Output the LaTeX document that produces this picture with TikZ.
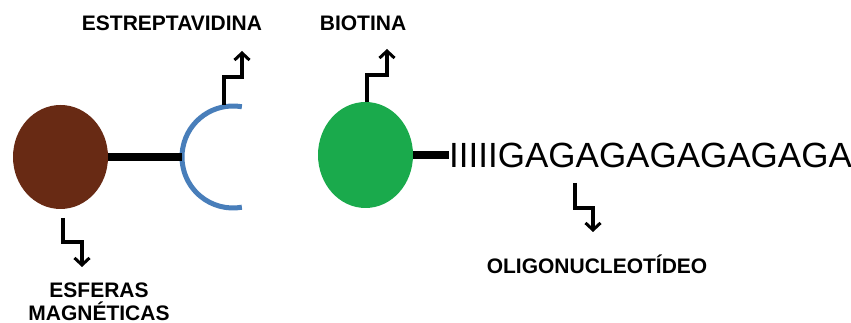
\documentclass[tikz,border=0pt]{standalone}
\usepackage{fontspec}
\setmainfont{Liberation Sans}
\usetikzlibrary{arrows.meta,shapes.geometric}
\definecolor{beadbrown}{RGB}{104,42,20}
\definecolor{biogreen}{RGB}{26,170,76}
\definecolor{strepblue}{RGB}{72,126,186}
\tikzset{
  lbl/.style={font=\fontsize{21}{23}\selectfont\bfseries, inner sep=0pt, align=center},
  pointer/.style={line width=3.2pt, -{Straight Barb[length=7pt,width=15pt,line width=3pt]}},
  linker/.style={line width=8pt},
  blob/.style={ellipse, inner sep=0pt, draw=none}
}
\begin{document}
\begin{tikzpicture}[x=1pt,y=1pt]
\useasboundingbox (0,0) rectangle (851,323);
% beads and biotin
\node[blob, fill=beadbrown, minimum width=95pt, minimum height=104pt] (bead) at (60.5,166) {};
\node[blob, fill=biogreen, minimum width=95pt, minimum height=106pt] (bio) at (365.5,168) {};
% streptavidin arc
\coordinate (strepL) at (182,166);
\draw[strepblue, line width=5pt] (233,166) ++(80:51) arc[start angle=80, end angle=280, radius=51];
% linkers
\node[anchor=west, inner sep=0pt, font=\fontsize{35}{35}\selectfont] (seq) at (449,168) {IIIIIGAGAGAGAGAGAGA};
\draw[linker] (bead.east) -- (strepL);
\draw[linker] (bio.east) -- (seq.west);
% labels
\node[lbl] (lstrep) at (172,300) {ESTREPTAVIDINA};
\node[lbl] (lbio) at (363,300) {BIOTINA};
\node[lbl] (loligo) at (597,59) {OLIGONUCLEOTÍDEO};
\node[lbl] (lbead) at (99,21.5) {ESFERAS\\MAGNÉTICAS};
% pointer coordinates
\coordinate (sA) at (224,218);
\coordinate (sB) at (242,272);
\coordinate (bA) at (367,221);
\coordinate (bB) at (387,274);
\coordinate (oA) at (575,140);
\coordinate (oB) at (593,91);
\coordinate (eA) at (63,105);
\coordinate (eB) at (82,56);
% pointers
\draw[pointer] (sA) -- (224,246) -- (242,246) -- (sB);
\draw[pointer] (bA) -- (367,248) -- (387,248) -- (bB);
\draw[pointer] (oA) -- (575,115) -- (593,115) -- (oB);
\draw[pointer] (eA) -- (63,81) -- (82,81) -- (eB);
\end{tikzpicture}
\end{document}
